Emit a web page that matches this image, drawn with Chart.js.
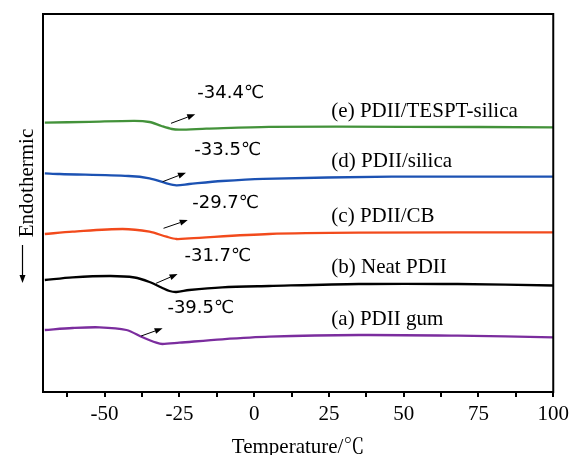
<!DOCTYPE html>
<html>
<head>
<meta charset="utf-8">
<script src="https://cdn.jsdelivr.net/npm/chart.js@4.4.1/dist/chart.umd.min.js"></script>
<style>
  html, body { margin: 0; padding: 0; background: #fff; }
</style>
</head>
<body>
<canvas id="dscChart" width="574" height="455"></canvas>
<script>
// Curvas DSC: temperatura (℃) y flujo de calor (unidades arbitrarias, desplazadas)
const tempA = [-70, -60.7, -51.7, -42.7, -37.3, -32.7, -30.7, -25, -10.7, 5, 35, 68, 100];
const heatA = [6.2, 6.4, 6.47, 6.2, 5.47, 4.93, 4.8, 4.93, 5.27, 5.53, 5.7, 5.63, 5.47];

const tempB = [-70, -60.7, -48, -40, -35, -31, -28.3, -26, -21.7, -10.7, 5, 35, 68, 100];
const heatB = [11.2, 11.47, 11.6, 11.45, 11.0, 10.45, 10.1, 10.0, 10.2, 10.47, 10.6, 10.8, 10.8, 10.65];

const tempC = [-70, -60.7, -44, -35, -29.3, -26, -21.7, 5, 35, 100];
const heatC = [15.8, 16.03, 16.3, 16.03, 15.53, 15.3, 15.37, 15.8, 15.93, 15.97];

const tempD = [-70, -65, -42, -35, -29.3, -26, -21.7, -10.7, 3, 46, 100];
const heatD = [21.87, 21.8, 21.6, 21.37, 20.87, 20.67, 20.8, 21.1, 21.32, 21.53, 21.53];

const tempE = [-70, -55, -40, -35, -31, -27.5, -25, -16, 5, 50, 100];
const heatE = [26.93, 27.02, 27.12, 27.0, 26.6, 26.3, 26.23, 26.33, 26.52, 26.52, 26.47];

const seriesNames = ['(a) PDII gum', '(b) Neat PDII', '(c) PDII/CB', '(d) PDII/silica', '(e) PDII/TESPT-silica'];
const tgLabels = ['-39.5℃', '-31.7℃', '-29.7℃', '-33.5℃', '-34.4℃'];
const majorTicks = [-50, -25, 0, 25, 50, 75, 100];
const minorTicks = [-62.5, -37.5, -12.5, 12.5, 37.5, 62.5, 87.5];

const colores = ['#7b2d9e', '#000000', '#f24a1c', '#1c52b3', '#43923a'];

// Posiciones de las anotaciones en coordenadas de datos
const notas = [
  {nameY: 7.27,  tgX: -29,   tgY: 8.37,  arrow: [-37.8, 5.6, -30.6, 6.37]},
  {nameY: 12.47, tgX: -23.3, tgY: 13.53, arrow: [-32.8, 10.87, -25.6, 11.8]},
  {nameY: 17.53, tgX: -20.7, tgY: 18.87, arrow: [-30.3, 16.37, -22.2, 17.2]},
  {nameY: 23.03, tgX: -20,   tgY: 24.2,  arrow: [-30.6, 21.03, -22.8, 21.93]},
  {nameY: 28.03, tgX: -19,   tgY: 29.87, arrow: [-27.8, 26.87, -19.7, 27.77]}
];
const nameX = 25.8;

const serif = "'Liberation Serif', 'Noto Serif CJK SC', 'Noto Sans CJK SC', serif";
const sans = "'DejaVu Sans', 'Noto Sans CJK SC', sans-serif";

const temps = [tempA, tempB, tempC, tempD, tempE];
const heats = [heatA, heatB, heatC, heatD, heatE];
const datasets = seriesNames.map((n, i) => ({
  label: n,
  data: temps[i].map((t, k) => ({x: t, y: heats[i][k]})),
  borderColor: colores[i],
  borderWidth: 2.3,
  pointRadius: 0,
  fill: false,
  tension: 0.3
}));

function flecha(ctx, x0, y0, x1, y1) {
  const ang = Math.atan2(y1 - y0, x1 - x0);
  const len = 8, w = 3;
  ctx.beginPath();
  ctx.moveTo(x0, y0);
  ctx.lineTo(x1 - len * Math.cos(ang), y1 - len * Math.sin(ang));
  ctx.stroke();
  ctx.beginPath();
  ctx.moveTo(x1, y1);
  ctx.lineTo(x1 - len * Math.cos(ang) + w * Math.sin(ang), y1 - len * Math.sin(ang) - w * Math.cos(ang));
  ctx.lineTo(x1 - len * Math.cos(ang) - w * Math.sin(ang), y1 - len * Math.sin(ang) + w * Math.cos(ang));
  ctx.closePath();
  ctx.fill();
}

const anotaciones = {
  id: 'anotaciones',
  afterDatasetsDraw(chart) {
    const {ctx, chartArea: a, scales: {x, y}} = chart;
    ctx.save();
    // marco
    ctx.strokeStyle = '#000';
    ctx.lineWidth = 2;
    ctx.strokeRect(a.left, a.top, a.right - a.left, a.bottom - a.top);

    ctx.fillStyle = '#000';
    ctx.textBaseline = 'middle';
    notas.forEach((n, i) => {
      ctx.textAlign = 'left';
      ctx.font = '21px ' + serif;
      ctx.fillText(seriesNames[i], x.getPixelForValue(nameX), y.getPixelForValue(n.nameY));
      ctx.font = '18px ' + sans;
      ctx.fillText(tgLabels[i], x.getPixelForValue(n.tgX), y.getPixelForValue(n.tgY));
      ctx.lineWidth = 1;
      flecha(ctx,
        x.getPixelForValue(n.arrow[0]), y.getPixelForValue(n.arrow[1]),
        x.getPixelForValue(n.arrow[2]), y.getPixelForValue(n.arrow[3]));
    });

    // título del eje Y con flecha hacia abajo
    const cy = (a.top + a.bottom) / 2;
    ctx.save();
    ctx.translate(33, cy - 20);
    ctx.rotate(-Math.PI / 2);
    ctx.font = '21px ' + serif;
    ctx.textAlign = 'center';
    ctx.textBaseline = 'alphabetic';
    ctx.fillText('Endothermic', 0, 0);
    ctx.restore();
    ctx.lineWidth = 1.2;
    flecha(ctx, 22.5, cy + 42, 22.5, cy + 80);
    ctx.restore();
  }
};

new Chart(document.getElementById('dscChart'), {
  type: 'line',
  data: {datasets},
  options: {
    responsive: false,
    animation: false,
    devicePixelRatio: 1,
    layout: {padding: {top: 14, right: 17, left: 0, bottom: 0}},
    plugins: {legend: {display: false}, tooltip: {enabled: false}},
    scales: {
      x: {
        type: 'linear',
        min: -70.6,
        max: 100,
        border: {display: true, color: '#000', width: 2},
        grid: {drawOnChartArea: false, drawTicks: true, tickLength: 5, color: '#000', lineWidth: 2},
        afterBuildTicks: s => {
          s.ticks = majorTicks.concat(minorTicks).sort((p, q) => p - q).map(v => ({value: v}));
        },
        afterFit: s => { s.height = 63; },
        ticks: {
          autoSkip: false,
          maxRotation: 0,
          padding: 5,
          color: '#000',
          font: {family: serif, size: 21},
          callback: v => majorTicks.includes(v) ? String(v) : ''
        },
        title: {
          display: true,
          text: 'Temperature/℃',
          color: '#000',
          font: {family: serif, size: 21},
          padding: {top: 0, bottom: -5}
        }
      },
      y: {
        min: 0,
        max: 37.8,
        border: {display: false},
        grid: {display: false},
        ticks: {display: false},
        afterFit: s => { s.width = 43; }
      }
    }
  },
  plugins: [anotaciones]
});
</script>
</body>
</html>
